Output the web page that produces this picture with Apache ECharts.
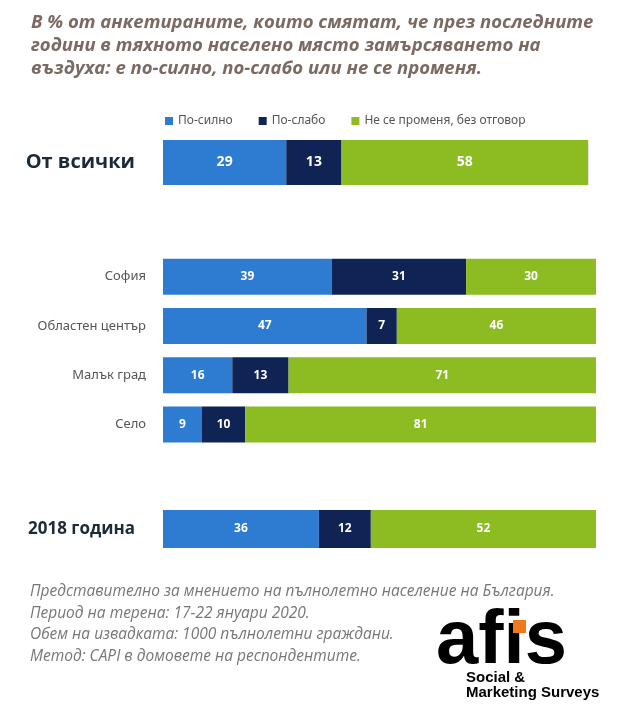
<!DOCTYPE html><html><head><meta charset="utf-8"><script src="https://cdn.jsdelivr.net/npm/echarts@6/dist/echarts.min.js"></script>
<style>body{margin:0}#c{width:620px;height:711px}</style></head><body><div id="c"></div><script>
const seriesNames=['По-силно','По-слабо','Не се променя, без отговор'];
const cat1=['От всички'];
const stronger1=[29], weaker1=[13], same1=[58];
const cat2=['Село','Малък град','Областен център','София'];
const stronger2=[9,16,47,39], weaker2=[10,13,7,31], same2=[81,71,46,30];
const cat3=['2018 година'];
const stronger3=[36], weaker3=[12], same3=[52];
const colors=['#2e7bd2','#0f2454','#8cbb22'];
const grids=[{left:163,width:425,top:140,height:45},{left:163,width:433,top:252,height:197},{left:163,width:433,top:505,height:48}];
const cats=[cat1,cat2,cat3];
const data=[[stronger1,weaker1,same1],[stronger2,weaker2,same2],[stronger3,weaker3,same3]];
const bw=[45,36,38];
const xAxis=grids.map((g,i)=>({gridIndex:i,type:'value',min:0,max:100,interval:10,show:i===0,axisLabel:{show:false},axisLine:{show:false},axisTick:{show:false},splitLine:{show:i===0,lineStyle:{color:'#e6e6e6'}}}));
const yAxis=grids.map((g,i)=>({gridIndex:i,type:'category',data:cats[i],axisLine:{show:i===0,lineStyle:{color:'#ddd'}},axisTick:{show:false},axisLabel:{margin:i===1?17:28,color:i===1?'#555':'#1c2a3a',fontSize:i===0?20:(i===1?13:17),fontWeight:i===1?'normal':'bold',fontFamily:i===1?'Noto Sans':'Open Sans'}}));
const series=[];
data.forEach((d,i)=>d.forEach((vals,k)=>series.push({name:seriesNames[k],type:'bar',stack:'s'+i,xAxisIndex:i,yAxisIndex:i,barWidth:bw[i],data:vals,itemStyle:{color:colors[k]},label:{show:true,color:'#fff',fontWeight:'bold',fontSize:i===0?14:12,fontFamily:'Open Sans'}})));
const foot=['Представително за мнението на пълнолетно население на България.','Период на терена: 17-22 януари 2020.','Обем на извадката: 1000 пълнолетни граждани.','Метод: CAPI в домовете на респондентите.'];
const chart=echarts.init(document.getElementById('c'));
chart.setOption({animation:false,backgroundColor:'#fff',
title:{text:'В % от анкетираните, които смятат, че през последните\nгодини в тяхното населено място замърсяването на\nвъздуха: е по-силно, по-слабо или не се променя.',left:26,top:6,textStyle:{color:'#7a6a62',fontSize:18.5,fontStyle:'italic',fontWeight:'bold',fontFamily:'Open Sans',lineHeight:23}},
legend:{top:110,left:160,itemWidth:8,itemHeight:8,itemGap:26,icon:'rect',textStyle:{color:'#555',fontSize:12,fontFamily:'Noto Sans'},data:seriesNames},
grid:grids,xAxis,yAxis,series,
graphic:[{type:'text',left:30,top:581,style:{text:foot.join('\n'),fill:'#777',font:'italic 15.5px "Open Sans"',lineHeight:21.5}},
{type:'text',left:436,top:604,style:{text:'afis',fill:'#000',font:'bold 76px "Liberation Sans"'}},
{type:'rect',shape:{x:513,y:620,width:13,height:13},style:{fill:'#f07a1a'}},
{type:'text',left:466,top:670,style:{text:'Social &\nMarketing Surveys',fill:'#000',font:'bold 15px "Liberation Sans"',lineHeight:15}}]});
</script></body></html>
